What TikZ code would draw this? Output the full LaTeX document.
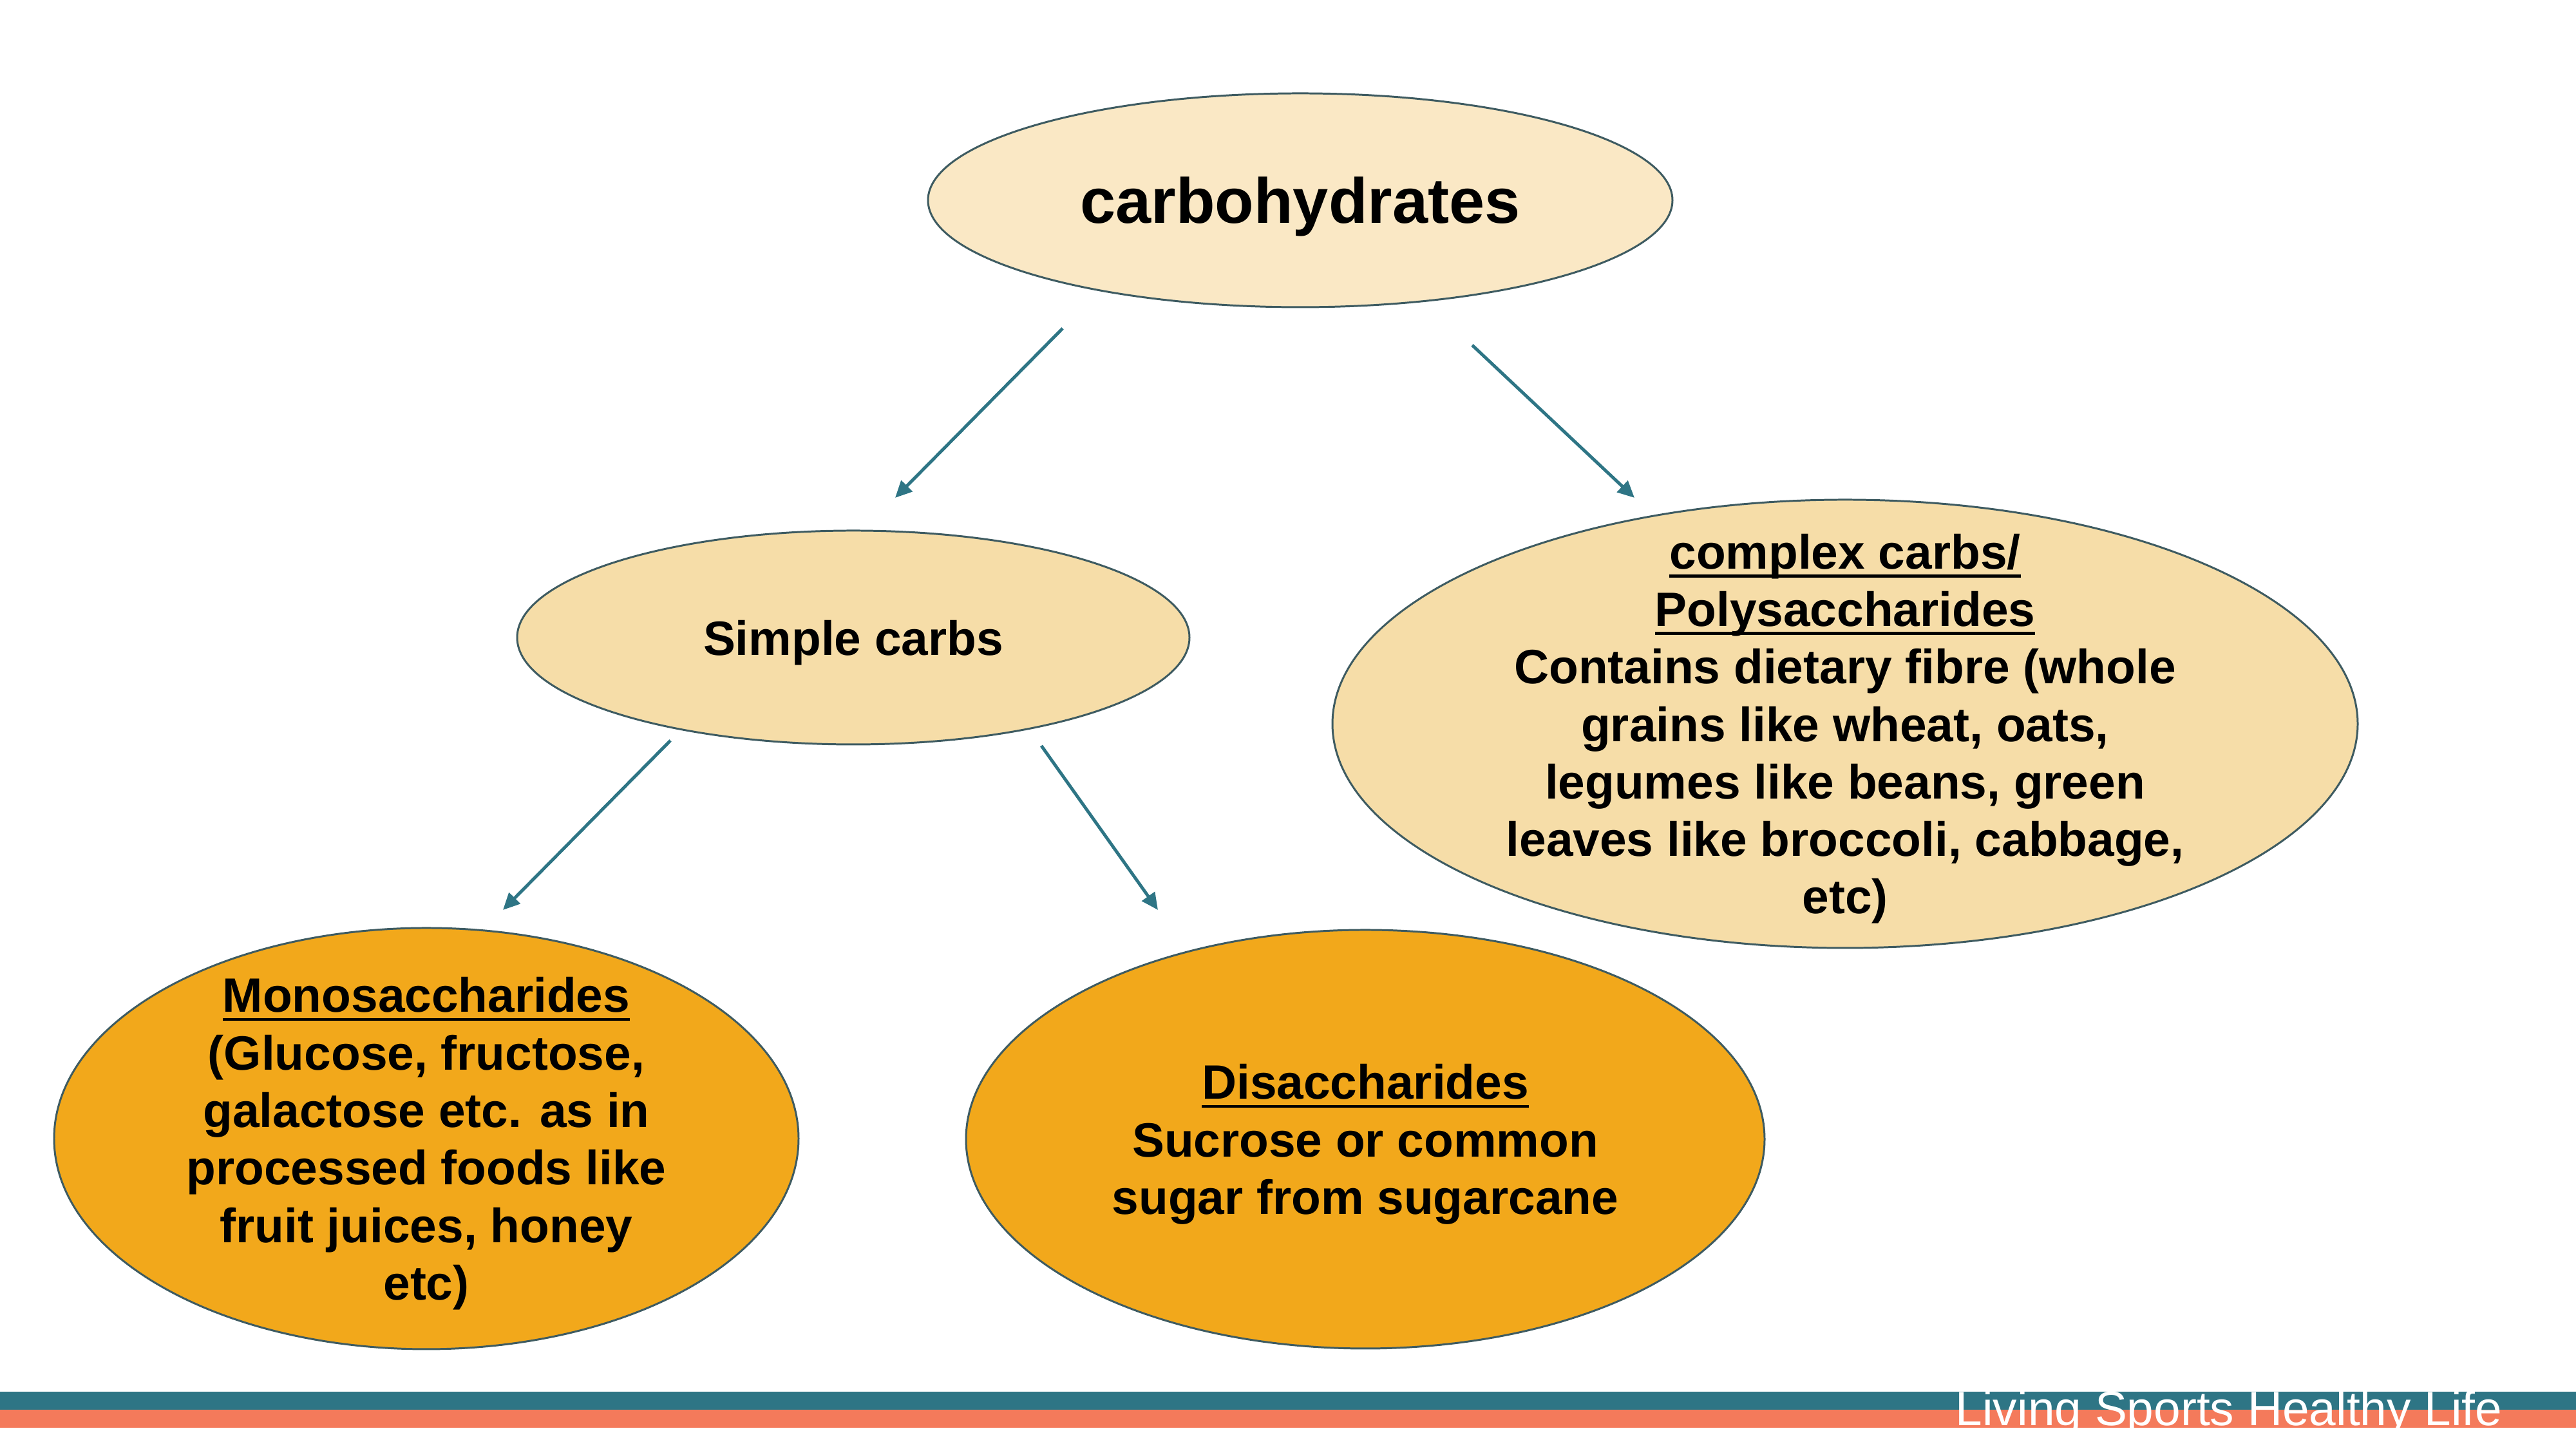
\documentclass[tikz,border=0pt]{standalone}
\usepackage{fontspec}
\setmainfont{Liberation Sans}
\usetikzlibrary{shapes.geometric, arrows.meta}

\definecolor{edgeslate}{HTML}{3E5B61}
\definecolor{paletop}{HTML}{FAE8C5}
\definecolor{tanfill}{HTML}{F6DDA8}
\definecolor{orangefill}{HTML}{F2A81B}
\definecolor{tealline}{HTML}{2E7585}
\definecolor{coralbar}{HTML}{F47A5B}

% thicker underline for the headings
\newcommand{\undl}[1]{\setbox0\hbox{#1}\leavevmode\rlap{\raisebox{-3.8pt}{\rule{\wd0}{1.3pt}}}\box0}

\tikzset{
  oval/.style={ellipse, draw=edgeslate, line width=0.85pt, inner xsep=0pt, inner ysep=-1.2cm,
    text depth=0pt, align=center, font=\bfseries\fontsize{21.3}{25.4}\selectfont},
  link/.style={draw=tealline, line width=1.4pt, -{Triangle[length=0.26cm,width=0.24cm]}}
}

\begin{document}
\begin{tikzpicture}
  \useasboundingbox (0,0) rectangle (40,22.5);
  % ellipses
  \node[oval, fill=paletop, minimum width=11.56cm, minimum height=3.32cm,
        font=\bfseries\fontsize{28.2}{34}\selectfont] (carbs) at (20.19,19.39) {carbohydrates};
  \node[oval, fill=tanfill, minimum width=10.44cm, minimum height=3.32cm] (simple) at (13.25,12.60) {Simple carbs};
  \node[oval, fill=tanfill, minimum width=15.92cm, minimum height=6.96cm] (complex) at (28.65,11.26)
    {\undl{complex carbs/}\\ \undl{Polysaccharides}\\ Contains dietary fibre (whole\\
     grains like wheat, oats,\\ legumes like beans, green\\ leaves like broccoli, cabbage,\\ etc)};
  \node[oval, fill=orangefill, minimum width=11.56cm, minimum height=6.54cm] (mono) at (6.62,4.82)
    {\undl{Monosaccharides}\\ (Glucose, fructose,\\ galactose etc. as in\\ processed foods like\\
     fruit juices, honey\\ etc)};
  \node[oval, fill=orangefill, minimum width=12.40cm, minimum height=6.50cm] (di) at (21.20,4.81)
    {\undl{Disaccharides}\\ Sucrose or common\\ sugar from sugarcane};
  % arrow ends
  \coordinate (c1) at (16.50,17.40);
  \coordinate (c2) at (13.90,14.77);
  \coordinate (c3) at (22.86,17.14);
  \coordinate (c4) at (25.38,14.77);
  \coordinate (c5) at (10.41,11.00);
  \coordinate (c6) at (7.81,8.37);
  \coordinate (c7) at (16.17,10.92);
  \coordinate (c8) at (17.98,8.37);
  \draw[link] (c1) -- (c2);
  \draw[link] (c3) -- (c4);
  \draw[link] (c5) -- (c6);
  \draw[link] (c7) -- (c8);
  % footer bars
  \begin{scope}
    \clip (0,0.33) rectangle (40,0.89);
    \fill[tealline] (0,0.61) rectangle (40,0.89);
    \fill[coralbar] (0,0.33) rectangle (40,0.61);
    \node[anchor=base west, inner sep=0pt, text=white, font=\fontsize{21.3}{25}\selectfont]
      (footer) at (30.36,0.36) {Living Sports Healthy Life};
  \end{scope}
\end{tikzpicture}
\end{document}
